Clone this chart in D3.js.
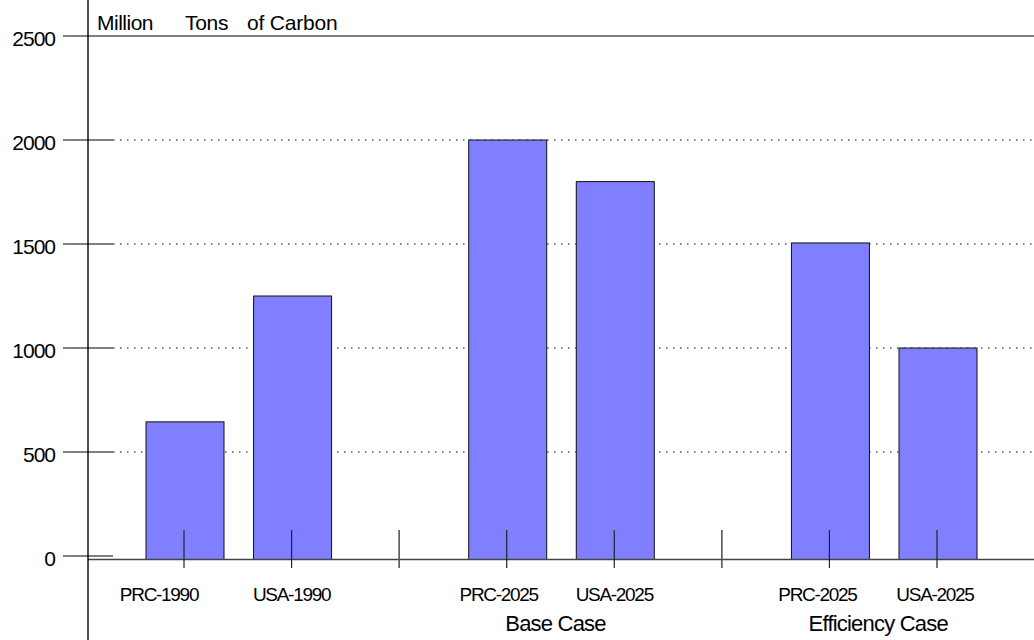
<!DOCTYPE html>
<html>
<head>
<meta charset="utf-8">
<script src="https://cdn.jsdelivr.net/npm/d3@7"></script>
<style>
  html, body { margin: 0; padding: 0; background: #fff; }
  svg { display: block; font-family: "Liberation Sans", Arial, sans-serif; }
</style>
</head>
<body>
<svg id="chart" width="1034" height="640"></svg>
<script>
// ---- data ----
const categories = ["PRC-1990", "USA-1990", "PRC-2025", "USA-2025", "PRC-2025", "USA-2025"];
const groupOf    = ["",         "",         "Base Case", "Base Case", "Efficiency Case", "Efficiency Case"];
const values     = [645, 1250, 2000, 1800, 1505, 1000];
const yTicks     = [0, 500, 1000, 1500, 2000, 2500];
const groupNames = ["Base Case", "Efficiency Case"];
// slot order along the x axis: bars and group separators
const slots = ["b0", "b1", "sep1", "b2", "b3", "sep2", "b4", "b5"];

// ---- layout ----
const W = 1034, H = 640;
const axisX = 88;
const barW = 78;
const labelNudge = [-25, 0, -8, 0, -12, -2];
const svg = d3.select("#chart");

const y = d3.scaleLinear().domain([0, 2500]).range([556, 36]);
const x = d3.scalePoint().domain(slots).range([184, 937]);
const baseY = y(0) + 3.5;

// gridlines (dotted)
svg.append("g").selectAll("line.grid")
  .data(yTicks.filter(t => t > 0 && t < 2500))
  .join("line")
  .attr("x1", 113).attr("x2", W)
  .attr("y1", d => y(d)).attr("y2", d => y(d))
  .attr("stroke", "#000").attr("stroke-width", 1)
  .attr("stroke-dasharray", "1.5,5.5");

// top line at 2500
svg.append("line")
  .attr("x1", 63).attr("x2", W)
  .attr("y1", y(2500)).attr("y2", y(2500))
  .attr("stroke", "#000").attr("stroke-width", 1.2);

// solid tick stubs
svg.append("g").selectAll("line.tick")
  .data(yTicks.filter(t => t < 2500))
  .join("line")
  .attr("x1", 63).attr("x2", 113)
  .attr("y1", d => y(d)).attr("y2", d => y(d))
  .attr("stroke", "#000").attr("stroke-width", 1.2);

// y tick labels
svg.append("g").selectAll("text")
  .data(yTicks)
  .join("text")
  .attr("x", 55).attr("y", d => y(d) + 10)
  .attr("text-anchor", "end")
  .attr("font-size", 21)
  .attr("letter-spacing", -1)
  .attr("fill", "#000")
  .text(d => d);

// bars
const barSlots = slots.filter(s => s.startsWith("b"));
svg.append("g").selectAll("rect")
  .data(values)
  .join("rect")
  .attr("x", (d, i) => x(barSlots[i]) - barW / 2 + 1)
  .attr("width", barW)
  .attr("y", d => y(d))
  .attr("height", d => baseY - y(d))
  .attr("fill", "#7f7fff")
  .attr("stroke", "#111")
  .attr("stroke-width", 1);

// baseline
svg.append("line")
  .attr("x1", axisX).attr("x2", W)
  .attr("y1", baseY).attr("y2", baseY)
  .attr("stroke", "#444").attr("stroke-width", 1.6);

// x ticks at every slot
svg.append("g").selectAll("line")
  .data(slots)
  .join("line")
  .attr("x1", d => x(d)).attr("x2", d => x(d))
  .attr("y1", 530).attr("y2", 568)
  .attr("stroke", d => d.startsWith("sep") ? "#555" : "#222")
  .attr("stroke-width", d => d.startsWith("sep") ? 1.6 : 1.2);

// y axis line
svg.append("line")
  .attr("x1", axisX).attr("x2", axisX)
  .attr("y1", 0).attr("y2", H)
  .attr("stroke", "#000").attr("stroke-width", 1.4);

// category labels
svg.append("g").selectAll("text")
  .data(categories)
  .join("text")
  .attr("x", (d, i) => x(barSlots[i]) + labelNudge[i])
  .attr("y", 601)
  .attr("text-anchor", "middle")
  .attr("font-size", 19)
  .attr("letter-spacing", -1.3)
  .attr("fill", "#000")
  .text(d => d);

// group labels
svg.append("g").selectAll("text")
  .data(groupNames)
  .join("text")
  .attr("x", g => {
    const idx = groupOf.map((v, i) => v === g ? i : -1).filter(i => i >= 0);
    return d3.mean(idx, i => x(barSlots[i])) - 5;
  })
  .attr("y", 631)
  .attr("text-anchor", "middle")
  .attr("font-size", 22)
  .attr("letter-spacing", -0.8)
  .attr("fill", "#000")
  .text(d => d);

// title
const title = svg.append("g").attr("font-size", 21).attr("fill", "#000");
title.append("text").attr("x", 97).attr("y", 30).attr("letter-spacing", -0.5).text("Million");
title.append("text").attr("x", 185).attr("y", 30).attr("letter-spacing", -0.3).text("Tons");
title.append("text").attr("x", 247).attr("y", 30).attr("letter-spacing", -0.2).text("of Carbon");
</script>
</body>
</html>
